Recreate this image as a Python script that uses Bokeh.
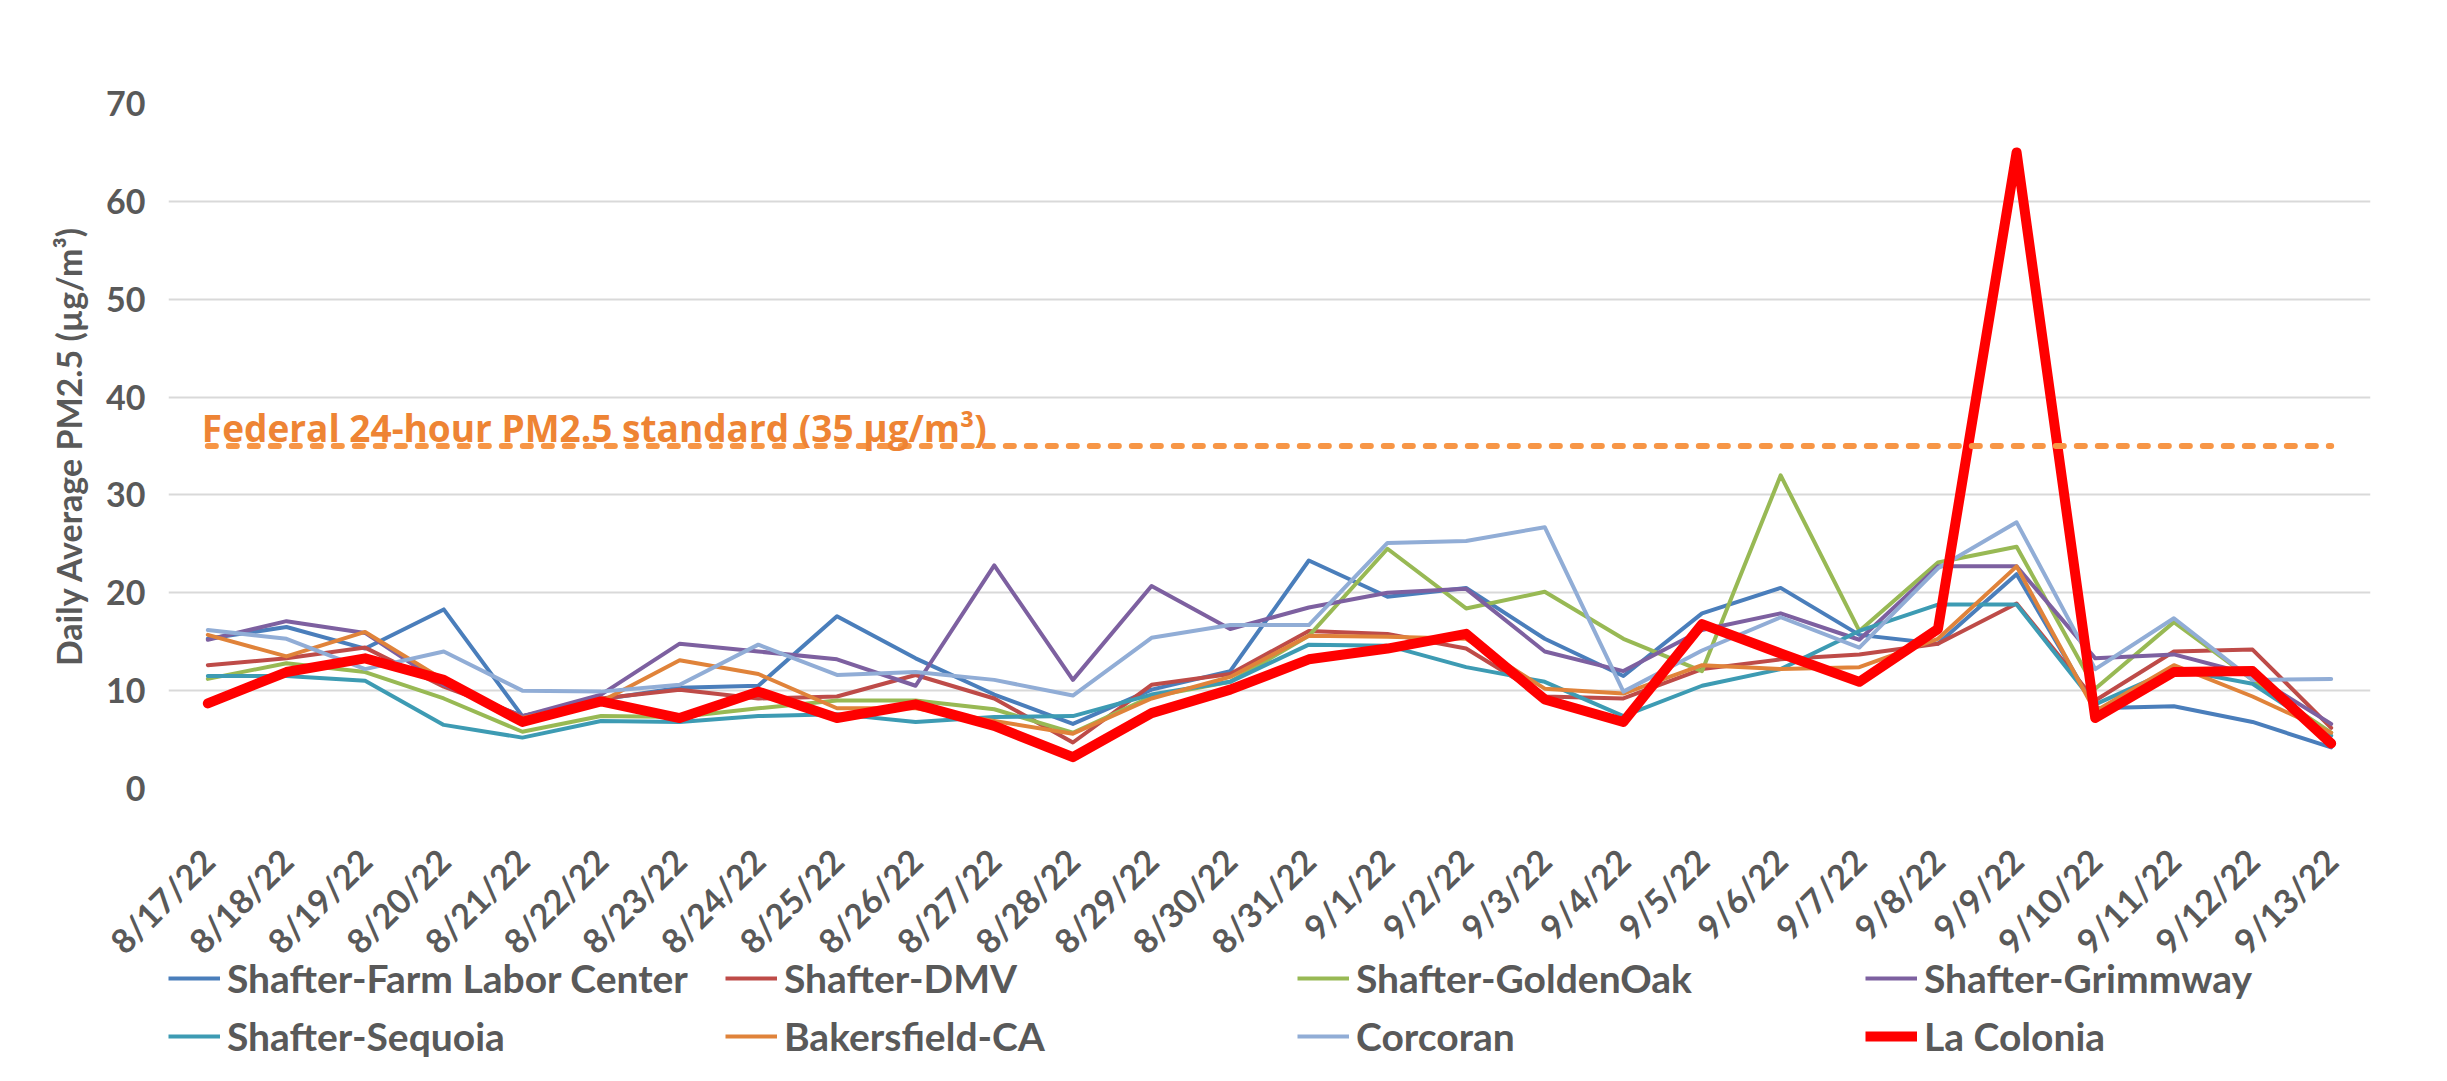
import math
from bokeh.plotting import figure
from bokeh.layouts import column
from bokeh.models import Range1d, FactorRange, FixedTicker, Legend, LegendItem
from bokeh.core.properties import value
from bokeh.embed import file_html
from bokeh.resources import INLINE

dates = ["8/17/22", "8/18/22", "8/19/22", "8/20/22", "8/21/22", "8/22/22", "8/23/22",
         "8/24/22", "8/25/22", "8/26/22", "8/27/22", "8/28/22", "8/29/22", "8/30/22",
         "8/31/22", "9/1/22", "9/2/22", "9/3/22", "9/4/22", "9/5/22", "9/6/22",
         "9/7/22", "9/8/22", "9/9/22", "9/10/22", "9/11/22", "9/12/22", "9/13/22"]

farm_labor = [15.3, 16.5, 14.3, 18.3, 7.4, 9.1, 10.3, 10.5, 17.6, 13.3, 9.6, 6.6, 10.1, 12.0,
              23.3, 19.6, 20.5, 15.3, 11.5, 17.9, 20.5, 15.7, 14.8, 21.9, 8.2, 8.4, 6.8, 4.2]
dmv = [12.6, 13.3, 14.4, 10.4, 7.4, 9.2, 10.1, 9.2, 9.4, 11.6, 9.2, 4.7, 10.6, 11.7,
       16.1, 15.8, 14.3, 9.4, 9.2, 12.2, 13.2, 13.7, 14.8, 18.9, 9.0, 14.0, 14.2, 6.2]
golden_oak = [11.2, 12.8, 11.9, 9.2, 5.8, 7.4, 7.3, 8.2, 9.0, 9.0, 8.1, 5.7, 9.4, 10.9,
              15.6, 24.5, 18.4, 20.1, 15.3, 12.0, 32.0, 16.1, 23.1, 24.7, 10.2, 17.0, 11.1, 5.7]
grimmway = [15.2, 17.1, 15.9, 10.6, 7.4, 9.6, 14.8, 14.0, 13.2, 10.5, 22.8, 11.1, 20.7, 16.3,
            18.5, 20.0, 20.4, 14.0, 12.0, 16.2, 17.9, 15.2, 22.7, 22.7, 13.3, 13.7, 11.6, 6.6]
sequoia = [11.5, 11.5, 11.0, 6.5, 5.2, 6.9, 6.8, 7.4, 7.6, 6.8, 7.3, 7.4, 9.6, 10.9,
           14.7, 14.6, 12.4, 10.9, 7.4, 10.5, 12.2, 16.1, 18.8, 18.8, 8.6, 12.2, 10.7, 5.4]
bakersfield = [15.7, 13.5, 16.0, 11.1, 7.2, 8.9, 13.1, 11.7, 8.2, 8.2, 6.9, 5.6, 9.2, 11.4,
               15.6, 15.5, 15.3, 10.2, 9.7, 12.6, 12.2, 12.4, 15.3, 22.7, 7.9, 12.6, 9.4, 5.7]
corcoran = [16.2, 15.3, 12.2, 14.0, 10.0, 9.9, 10.6, 14.7, 11.6, 11.9, 11.1, 9.5, 15.4, 16.7,
            16.7, 25.1, 25.3, 26.7, 9.9, 14.1, 17.5, 14.4, 22.5, 27.2, 12.2, 17.4, 11.1, 11.2]
la_colonia = [8.7, 11.9, 13.3, 11.1, 6.8, 8.9, 7.2, 9.9, 7.2, 8.6, 6.4, 3.2, 7.7, 10.1,
              13.2, 14.3, 15.8, 9.1, 6.8, 16.8, 13.8, 10.9, 16.3, 65.0, 7.2, 11.9, 12.0, 4.6]

series_names = ["Shafter-Farm Labor Center", "Shafter-DMV", "Shafter-GoldenOak",
                "Shafter-Grimmway", "Shafter-Sequoia", "Bakersfield-CA", "Corcoran", "La Colonia"]
series_values = [farm_labor, dmv, golden_oak, grimmway, sequoia, bakersfield, corcoran, la_colonia]
series_colors = ["#4A7EBB", "#BE4B48", "#98B954", "#7D60A0", "#3D9BB3", "#E0833A", "#91ADD6", "#FF0000"]
series_widths = [4, 4, 4, 4, 4, 4, 4, 10]

standard = 35
standard_label = "Federal 24-hour PM2.5 standard (35 µg/m³)"
y_ticks = [0, 10, 20, 30, 40, 50, 60, 70]

GRAY = "#595959"
FONT = "Lato"

# ---- main chart ----
p = figure(x_range=FactorRange(*dates, range_padding=0), y_range=Range1d(0, 70),
           frame_width=2202, frame_height=685,
           min_border_left=168, min_border_right=61, min_border_top=103, min_border_bottom=161,
           output_backend="svg", toolbar_location=None)
p.outline_line_color = None
p.background_fill_color = "white"
p.border_fill_color = "white"

p.xgrid.grid_line_color = None
p.ygrid.grid_line_color = "#D9D9D9"
p.ygrid.grid_line_width = 2

p.yaxis.ticker = FixedTicker(ticks=y_ticks)
for ax in (p.xaxis[0], p.yaxis[0]):
    ax.axis_line_color = None
    ax.major_tick_line_color = None
    ax.minor_tick_line_color = None
    ax.major_label_text_font = FONT
    ax.major_label_text_font_style = "bold"
    ax.major_label_text_color = GRAY
    ax.major_label_text_font_size = "34px"

p.yaxis.major_label_standoff = 17
p.yaxis.axis_label = "Daily Average PM2.5 (µg/m³)"
p.yaxis.axis_label_text_font = FONT
p.yaxis.axis_label_text_font_style = "bold"
p.yaxis.axis_label_text_font_size = "34px"
p.yaxis.axis_label_text_color = GRAY
p.yaxis.axis_label_standoff = 14

p.xaxis.major_label_orientation = math.pi / 4
p.xaxis.major_label_standoff = 60

for name, vals, col, w in zip(series_names, series_values, series_colors, series_widths):
    p.line(x=dates, y=vals, line_color=col, line_width=w, line_join="round", line_cap="round")

p.line(x=[dates[0], dates[-1]], y=[standard, standard], line_color="#F79646",
       line_width=6, line_dash="8 13", line_cap="round")
p.text(x=[dates[0]], y=[standard], text=[standard_label], text_font=value("Open Sans"),
       text_font_style="bold", text_font_size="37px", text_color="#EE8434",
       text_align="left", text_baseline="alphabetic", x_offset=-6, y_offset=-19)

# ---- legend strip (same series, drawn off-range so only the legend shows) ----
lg = figure(x_range=p.x_range, y_range=Range1d(1000, 2000),
            width=2431, height=116, min_border=0, margin=(-29, 0, 0, 0),
            x_axis_location=None, y_axis_location=None,
            output_backend="svg", toolbar_location=None)
lg.outline_line_color = None
lg.grid.grid_line_color = None
lg.background_fill_alpha = 0
lg.border_fill_alpha = 0

items = []
for name, vals, col, w in zip(series_names, series_values, series_colors, series_widths):
    r = lg.line(x=dates, y=vals, line_color=col, line_width=w)
    items.append(LegendItem(label=name, renderers=[r]))

legend_cols_x = [0, 557, 1129, 1697]
for k, lx in enumerate(legend_cols_x):
    leg = Legend(items=[items[k], items[k + 4]], orientation="vertical", location=(lx, 0),
                 padding=0, margin=0, spacing=0, glyph_width=52, glyph_height=58,
                 label_standoff=7, label_height=58,
                 label_text_font=FONT, label_text_font_style="bold",
                 label_text_font_size="39px", label_text_color=GRAY,
                 border_line_color=None, background_fill_alpha=0)
    lg.add_layout(leg, "center")

open("out.html", "w").write(file_html(column(p, lg, spacing=0), INLINE))
